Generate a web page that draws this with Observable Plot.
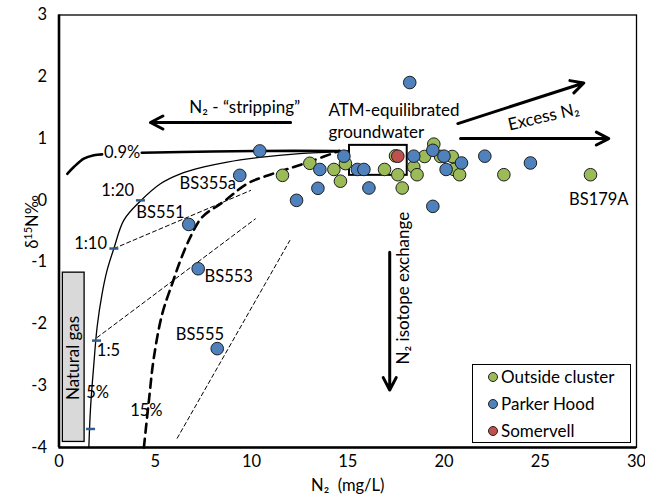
<!DOCTYPE html>
<html><head><meta charset="utf-8">
<script src="https://cdn.jsdelivr.net/npm/d3@7"></script>
<script src="https://cdn.jsdelivr.net/npm/@observablehq/plot@0.6"></script>
<style>
body{margin:0;background:#fff;font-family:Lato,"Open Sans",sans-serif;}
#wrap{position:relative;width:645px;height:504px;}
#legend{position:absolute;left:472px;top:364px;width:159px;height:79px;border:1.5px solid #000;background:#fff;box-sizing:border-box;font-size:17px;color:#000;}
.row{position:absolute;left:15px;height:20px;line-height:20px;display:flex;align-items:center;white-space:nowrap;}
.sw{width:10px;height:10px;border-radius:50%;border:1px solid #222;margin-right:3px;box-sizing:border-box;}
#ylabel{position:absolute;left:31px;top:222px;transform:translate(-50%,-50%) rotate(-90deg);font-size:16.5px;white-space:nowrap;line-height:1;color:#000;}
#ylabel sup{font-size:11px;vertical-align:6px;}
</style></head><body>
<div id="wrap"><div id="chart"></div><div id="legend"></div><div id="ylabel"></div></div>
<script>
// ---- data ----
const seriesNames = ["Outside cluster", "Parker Hood", "Somervell"];
const seriesColors = ["#9BBB59", "#4F81BD", "#C0504D"];

const outsideCluster = [
  [11.61,0.405],[13.03,0.60],[14.28,0.50],[14.62,0.31],[14.88,0.595],
  [16.91,0.50],[17.48,0.72],[17.6,0.415],[17.83,0.20],[18.43,0.54],
  [18.6,0.415],[18.99,0.71],[19.47,0.91],[19.82,0.71],[20.43,0.71],
  [20.51,0.50],[20.81,0.415],[23.11,0.415],[27.61,0.415]
];
const parkerHood = [
  [6.74,-0.39],[7.23,-1.107],[8.22,-2.40],[9.39,0.405],[10.43,0.80],
  [12.34,0.0],[13.45,0.195],[13.55,0.50],[14.8,0.715],[15.5,0.50],
  [15.84,0.50],[16.1,0.20],[18.22,1.907],[18.43,0.715],[19.42,0.81],
  [19.42,-0.097],[20.0,0.715],[20.11,0.50],[20.91,0.605],[22.12,0.715],[24.49,0.605]
];
const somervell = [[17.6,0.715]];

// mixing curves
const curve09a = [[0.43,0.43],[0.77,0.54],[1.29,0.675],[1.81,0.73],[2.24,0.745]];
const curve09b = [[4.3,0.77],[8,0.79],[10.3,0.80],[14.6,0.80]];
const curve5 = [[1.55,-4.0],[1.64,-3.35],[1.81,-2.65],[1.98,-2.05],[2.24,-1.51],[2.5,-1.13],[2.85,-0.78],
  [3.37,-0.32],[4.23,-0.01],[5.27,0.27],[6.31,0.43],[7.53,0.54],[8.74,0.62],[10.3,0.69],[12.5,0.757],[14.1,0.78],[15.0,0.80]];
const curve15 = [[4.41,-4.0],[4.67,-3.24],[4.93,-2.54],[5.36,-1.84],[5.88,-1.35],[6.31,-0.97],[6.83,-0.59],
  [7.44,-0.27],[8.56,-0.02],[9.78,0.27],[11.0,0.42],[12.2,0.54],[13.24,0.65],[14.55,0.80]];
const mixLines = [
  [[2.85,-0.78],[9.95,0.16]],
  [[1.98,-2.22],[10.2,-0.30]],
  [[6.14,-3.85],[11.99,-0.65]]
];
const ratioTicks = [[4.23,0],[2.85,-0.78],[1.95,-2.27],[1.64,-3.70]];

// boxes [x1,x2,y1,y2]
const naturalGasBox = [[0.2,1.33,-3.91,-1.17]];
const atmBox = [[15.09,18.09,0.405,0.89]];

// arrows [x1,y1,x2,y2]
const arrows = [
  [12.03,1.26,4.75,1.26],
  [20.72,1.243,27.26,1.90],
  [20.86,1.0,28.56,1.0],
  [17.18,-0.84,17.18,-3.07]
];

// labels [text, x, y, rotate]
const labels = [
  ["0.9%",3.28,0.77,0],
  ["1:20",3.05,0.16,0],
  ["1:10",1.64,-0.70,0],
  ["1:5",2.57,-2.44,0],
  ["5%",2.01,-3.12,0],
  ["15%",4.54,-3.40,0],
  ["BS355a",7.73,0.27,0],
  ["BS551",5.27,-0.205,0],
  ["BS553",8.82,-1.243,0],
  ["BS555",7.32,-2.17,0],
  ["BS179A",28.04,0.016,0]
];
const phrases = [
  ["N₂ - “stripping”",9.65,1.50,0],
  ["Excess N₂",25.17,1.35,-13],
  ["N₂ isotope exchange",17.91,-1.42,-90],
  ["Natural gas",0.75,-2.55,-90]
];
const atmLines = [["ATM-equilibrated",14.0,1.46],["groundwater",14.0,1.097]];

const xTicks = [0,5,10,15,20,25,30];
const yTicks = [-4,-3,-2,-1,0,1,2,3];
const xLabel = "N₂  (mg/L)";
const yLabelParts = ["δ", "15", "N‰"];

// ---- build ----
const points = [
  ...outsideCluster.map(d => ({x:d[0], y:d[1], s:seriesNames[0]})),
  ...parkerHood.map(d => ({x:d[0], y:d[1], s:seriesNames[1]})),
  ...somervell.map(d => ({x:d[0], y:d[1], s:seriesNames[2]}))
];
const hline = {draw(ctx, size){ const r = Math.sqrt(size/Math.PI); ctx.moveTo(-r,0); ctx.lineTo(r,0); }};
const X = d => d[0], Y = d => d[1];

const chart = Plot.plot({
  width: 645, height: 504,
  marginLeft: 58.5, marginRight: 9, marginTop: 14.5, marginBottom: 57,
  style: {fontFamily: "Lato, 'Open Sans', sans-serif", fontSize: "16.5px", background: "#fff", color: "#000"},
  x: {domain: [0,30], ticks: xTicks, tickSize: 0, tickPadding: 8, label: null, tickFormat: d => `${d}`},
  y: {domain: [-4,3], ticks: yTicks, tickSize: 0, tickPadding: 12, label: null, tickFormat: d => `${d}`},
  color: {domain: seriesNames, range: seriesColors},
  marks: [
    Plot.frame({stroke: "#000", strokeWidth: 1.3}),
    Plot.rect(naturalGasBox, {x1: d=>d[0], x2: d=>d[1], y1: d=>d[2], y2: d=>d[3], fill: "#D9D9D9", stroke: "#000", strokeWidth: 1.3}),
    Plot.rect(atmBox, {x1: d=>d[0], x2: d=>d[1], y1: d=>d[2], y2: d=>d[3], fill: "none", stroke: "#000", strokeWidth: 2}),
    ...mixLines.map(l => Plot.line(l, {x: X, y: Y, stroke: "#000", strokeWidth: 1, strokeDasharray: "4,3"})),
    Plot.line(curve5, {x: X, y: Y, stroke: "#000", strokeWidth: 1.3, curve: "catmull-rom"}),
    Plot.line(curve15, {x: X, y: Y, stroke: "#000", strokeWidth: 2.6, strokeDasharray: "9,6", curve: "catmull-rom"}),
    Plot.line(curve09a, {x: X, y: Y, stroke: "#000", strokeWidth: 2.6, curve: "catmull-rom"}),
    Plot.line(curve09b, {x: X, y: Y, stroke: "#000", strokeWidth: 2.6, curve: "catmull-rom"}),
    Plot.dot(ratioTicks, {x: X, y: Y, symbol: hline, r: 4.5, fill: "none", stroke: "#2F5C8F", strokeWidth: 2.5}),
    Plot.arrow(arrows, {x1: d=>d[0], y1: d=>d[1], x2: d=>d[2], y2: d=>d[3], stroke: "#000", strokeWidth: 3, headLength: 7, headAngle: 55}),
    Plot.dot(points, {x: "x", y: "y", fill: "s", r: 6.3, stroke: "#1e1e1e", strokeWidth: 1}),
    Plot.text(labels, {x: d=>d[1], y: d=>d[2], text: d=>d[0], rotate: d=>d[3], fontSize: 16.5, fill: "#000"}),
    Plot.text(phrases, {x: d=>d[1], y: d=>d[2], text: d=>d[0], rotate: d=>d[3], fontSize: 17, fill: "#000"}),
    Plot.text(atmLines, {x: d=>d[1], y: d=>d[2], text: d=>d[0], textAnchor: "start", fontSize: 17, fill: "#000"}),
    Plot.ruleX([0], {stroke: "#000", strokeWidth: 2.6}),
    Plot.ruleY([-4], {stroke: "#000", strokeWidth: 2.6}),
    Plot.text([xLabel], {frameAnchor: "bottom", text: d=>d, dy: 38, lineAnchor: "middle", fontSize: 16.5})
  ]
});
document.getElementById("chart").appendChild(chart);

// y-axis title (rotated, with real superscript)
const yl = document.getElementById("ylabel");
yl.appendChild(document.createTextNode(yLabelParts[0]));
const sup = document.createElement("sup");
sup.textContent = yLabelParts[1];
yl.appendChild(sup);
yl.appendChild(document.createTextNode(yLabelParts[2]));

// legend
const lg = document.getElementById("legend");
const rowCenters = [11.5, 38.5, 65.5];
seriesNames.forEach((n, i) => {
  const row = document.createElement("div");
  row.className = "row";
  row.style.top = (rowCenters[i] - 10) + "px";
  const sw = document.createElement("span");
  sw.className = "sw";
  sw.style.background = seriesColors[i];
  row.appendChild(sw);
  row.appendChild(document.createTextNode(n));
  lg.appendChild(row);
});
</script>
</body></html>
